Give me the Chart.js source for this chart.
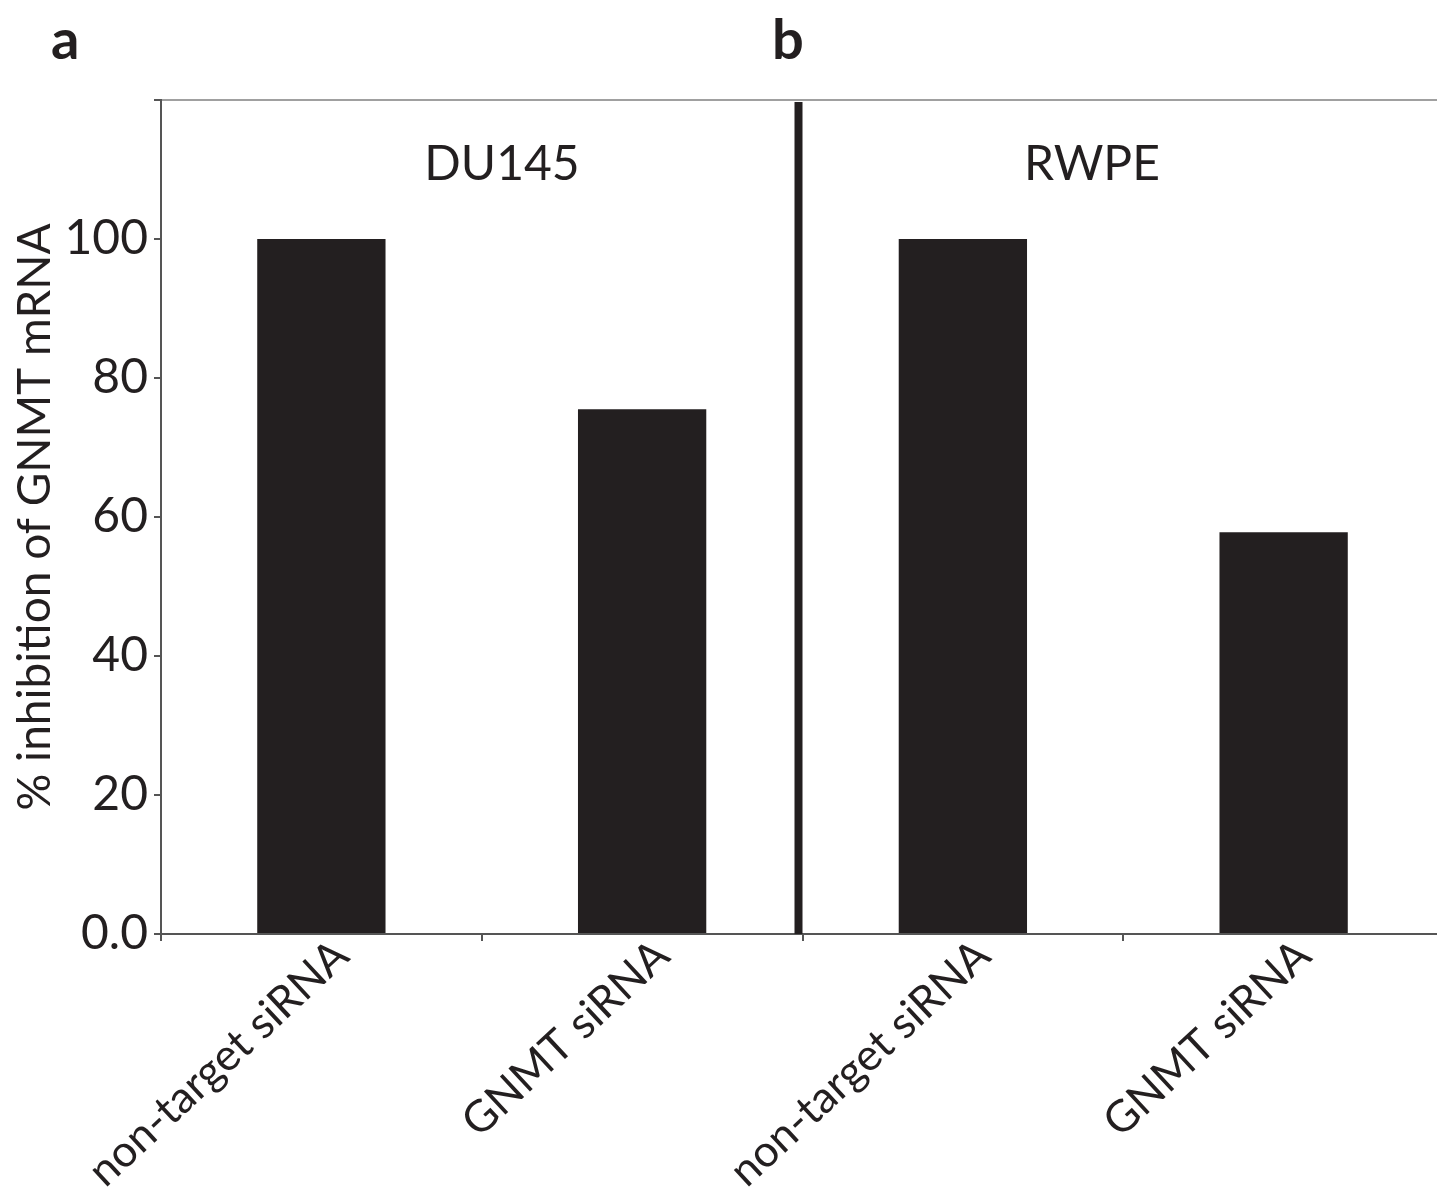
<!DOCTYPE html>
<html>
<head>
<meta charset="utf-8">
<script src="https://cdn.jsdelivr.net/npm/chart.js@4"></script>
<style>
  body { margin: 0; background: #fff; overflow: hidden; }
  canvas { display: block; }
</style>
</head>
<body>
<canvas id="myChart" width="1444" height="1199"></canvas>
<script>
// data
const categories = ["non-target siRNA", "GNMT siRNA", "non-target siRNA", "GNMT siRNA"];
const inhibition = [100, 75.5, 100, 57.8];
const yTicks = [0, 20, 40, 60, 80, 100, 120];
const panelNames = ["DU145", "RWPE"];
const panelLetters = ["a", "b"];

const ink = "#231f20";
const fontFam = "Lato, 'Open Sans', sans-serif";

// divider, slanted category labels, panel names, letters
const extras = {
  id: "extras",
  afterDraw(chart) {
    const c = chart.ctx;
    const x = chart.scales.x;
    const area = chart.chartArea;
    const mid = x.getPixelForValue(1.5);
    c.save();
    c.fillStyle = ink;
    c.fillRect(mid - 8, area.top + 2, 8, area.bottom - area.top - 2);

    // category labels, end of text just right of each bar centre
    c.font = "44px " + fontFam;
    c.textAlign = "right";
    c.textBaseline = "alphabetic";
    categories.forEach((lab, i) => {
      c.save();
      c.translate(x.getPixelForValue(i) + 30, area.bottom + 25);
      c.rotate((-43 * Math.PI) / 180);
      c.fillText(lab, 0, 0);
      c.restore();
    });

    c.font = "48px " + fontFam;
    c.textAlign = "center";
    c.textBaseline = "middle";
    c.fillText(panelNames[0], 502, 165);
    c.fillText(panelNames[1], 1092, 165);

    c.font = "bold 56px " + fontFam;
    c.textAlign = "left";
    c.textBaseline = "alphabetic";
    c.fillText(panelLetters[0], 51, 59);
    c.fillText(panelLetters[1], 772, 59);
    c.restore();
  },
};

const ctx = document.getElementById("myChart").getContext("2d");
const myChart = new Chart(ctx, {
  type: "bar",
  data: {
    labels: categories,
    datasets: [
      {
        data: inhibition,
        backgroundColor: ink,
        borderWidth: 0,
        categoryPercentage: 1,
        barPercentage: 0.4,
      },
    ],
  },
  options: {
    responsive: false,
    animation: false,
    layout: { padding: { top: 100, right: 0, left: 0, bottom: 0 } },
    plugins: { legend: { display: false }, tooltip: { enabled: false } },
    scales: {
      x: {
        offset: true,
        border: { color: "#555", width: 2 },
        grid: { drawOnChartArea: false, tickColor: "#555", tickLength: 7, lineWidth: 2 },
        ticks: { display: false },
        afterFit(scale) {
          scale.height = 265;
        },
      },
      y: {
        min: 0,
        max: 120,
        afterBuildTicks(scale) {
          scale.ticks = yTicks.map((v) => ({ value: v }));
        },
        border: { color: "#555", width: 2 },
        grid: {
          color: (c) => (c.tick && c.tick.value === 120 ? "#a0a0a0" : "transparent"),
          tickColor: "#555",
          tickLength: 7,
          lineWidth: 2,
        },
        ticks: {
          color: ink,
          font: { family: fontFam, size: 48 },
          padding: 6,
          callback: (v) => (v === 120 ? "" : v === 0 ? "0.0" : v),
        },
        title: {
          display: true,
          text: "% inhibition of GNMT mRNA",
          color: ink,
          font: { family: fontFam, size: 46 },
          padding: { top: 8, bottom: 0 },
        },
        afterFit(scale) {
          scale.width = 161;
        },
      },
    },
  },
  plugins: [extras],
});
</script>
</body>
</html>
